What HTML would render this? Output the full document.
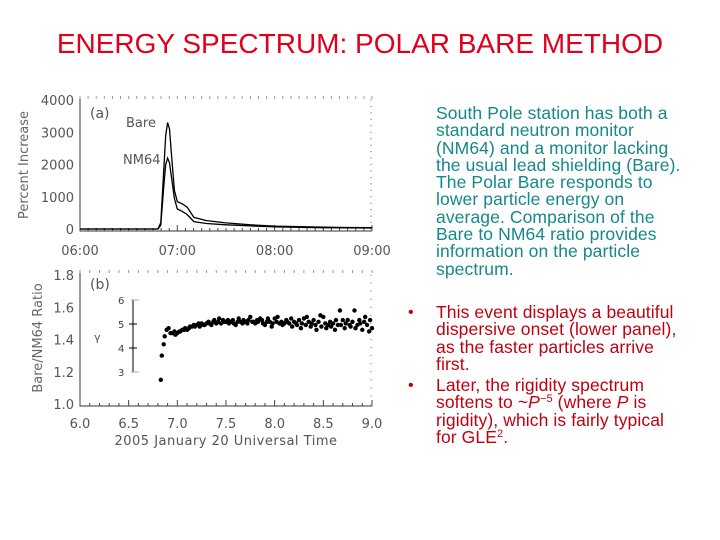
<!DOCTYPE html>
<html><head><meta charset="utf-8"><style>
body{margin:0;width:720px;height:540px;background:#fff;overflow:hidden;position:relative;font-family:"Liberation Sans",Arial,sans-serif}
#title{position:absolute;left:0;width:720px;top:28px;text-align:center;font-size:28px;color:#e0001b}
.txt{position:absolute;left:436px;font-size:17.5px;line-height:17.3px;letter-spacing:0.1px;white-space:nowrap}
#para{top:105px;color:#15888a}
.bul{position:absolute;left:408px;font-size:16px;color:#c0000f}
#b1{top:304px;color:#c0000f}
#b2{top:377px;color:#c0000f}
sup{font-size:11px;line-height:0;vertical-align:6px}
svg{position:absolute;left:0;top:0}
</style></head><body>
<div id="title">ENERGY SPECTRUM: POLAR BARE METHOD</div>
<div id="para" class="txt">South Pole station has both a<br>standard neutron monitor<br>(NM64) and a monitor lacking<br>the usual lead shielding (Bare).<br>The Polar Bare responds to<br>lower particle energy on<br>average. Comparison of the<br>Bare to NM64 ratio provides<br>information on the particle<br>spectrum.</div>
<div class="bul" style="top:304px">•</div>
<div id="b1" class="txt">This event displays a beautiful<br>dispersive onset (lower panel),<br>as the faster particles arrive<br>first.</div>
<div class="bul" style="top:377px">•</div>
<div id="b2" class="txt">Later, the rigidity spectrum<br>softens to ~<i>P</i><sup>−5</sup> (where <i>P</i> is<br>rigidity), which is fairly typical<br>for GLE<sup>2</sup>.</div>
<svg id="chart" width="400" height="460" font-family="'DejaVu Sans','Liberation Sans',sans-serif"></svg>
<script>
const topTimes=[6.0,6.3,6.6,6.8,6.83,6.86,6.88,6.9,6.92,6.94,6.97,7.0,7.05,7.1,7.17,7.3,7.5,7.75,8.0,8.25,8.5,8.75,9.0];
const bareVals=[0,0,0,0,200,1800,2900,3300,3100,2300,1200,850,780,680,360,260,190,130,90,70,55,45,40];
const nmVals=[0,0,0,0,120,1300,2000,2200,2050,1600,950,620,550,450,230,170,130,95,65,50,40,35,30];
const ratioTimes=[6.83,6.84,6.86,6.87,6.89,6.91,6.93,6.95,6.97,6.98,7.0,7.02,7.03,7.05,7.07,7.08,7.1,7.12,7.13,7.15,7.17,7.18,7.2,7.22,7.23,7.25,7.27,7.28,7.3,7.32,7.33,7.35,7.37,7.38,7.4,7.42,7.43,7.45,7.47,7.48,7.5,7.52,7.53,7.55,7.57,7.58,7.6,7.62,7.63,7.65,7.67,7.68,7.7,7.72,7.73,7.75,7.77,7.78,7.8,7.82,7.83,7.85,7.87,7.88,7.9,7.92,7.93,7.95,7.97,7.98,8.0,8.02,8.03,8.05,8.07,8.08,8.1,8.12,8.13,8.15,8.17,8.18,8.2,8.22,8.23,8.25,8.27,8.28,8.3,8.32,8.33,8.35,8.37,8.38,8.4,8.42,8.43,8.45,8.47,8.48,8.5,8.52,8.53,8.55,8.57,8.58,8.6,8.62,8.63,8.65,8.67,8.68,8.7,8.72,8.73,8.75,8.77,8.78,8.8,8.82,8.83,8.85,8.87,8.88,8.9,8.92,8.93,8.95,8.97,8.98,9.0];
const ratioVals=[1.15,1.30,1.37,1.42,1.46,1.47,1.44,1.44,1.45,1.43,1.44,1.45,1.45,1.46,1.46,1.47,1.46,1.47,1.48,1.48,1.49,1.48,1.49,1.50,1.48,1.50,1.49,1.49,1.50,1.51,1.50,1.49,1.51,1.52,1.50,1.51,1.53,1.50,1.52,1.51,1.51,1.52,1.50,1.51,1.52,1.50,1.49,1.51,1.53,1.51,1.50,1.52,1.51,1.50,1.52,1.54,1.51,1.51,1.50,1.52,1.51,1.53,1.52,1.50,1.49,1.51,1.53,1.51,1.48,1.50,1.53,1.51,1.54,1.50,1.51,1.49,1.50,1.52,1.51,1.50,1.53,1.48,1.51,1.50,1.49,1.52,1.47,1.50,1.53,1.49,1.54,1.51,1.48,1.50,1.52,1.49,1.46,1.51,1.55,1.48,1.54,1.50,1.47,1.49,1.51,1.48,1.50,1.46,1.52,1.49,1.58,1.49,1.52,1.47,1.50,1.52,1.49,1.48,1.51,1.58,1.47,1.49,1.52,1.50,1.46,1.51,1.54,1.49,1.45,1.52,1.47];
const topYTicks=[0,1000,2000,3000,4000];
const topXLabels=['06:00','07:00','08:00','09:00'];
const botYTicks=[1.0,1.2,1.4,1.6,1.8];
const botXTicks=[6.0,6.5,7.0,7.5,8.0,8.5,9.0];
const gammaTicks=[3,4,5,6];

const svg=document.getElementById('chart');const NS='http://www.w3.org/2000/svg';
function el(t,a,p){const e=document.createElementNS(NS,t);for(const k in a)e.setAttribute(k,a[k]);(p||svg).appendChild(e);return e;}
const X0=80,X1=372;
const xs=t=>X0+(t-6)/3*(X1-X0);
const yTop=v=>229-v/4000*129;
const yBot=v=>404-(v-1)/0.8*129;
const gy=g=>372-(g-3)*24;

let e=el('path',{d:`M${X0} 98V231H${X1}`,stroke:'#333',fill:'none','stroke-width':1});

for(let i=0;i<=36;i++){const x=xs(6+i/12);el('line',{x1:x,x2:x,y1:231,y2:i%12==0?225:228,stroke:'#444'});el('line',{x1:x,x2:x,y1:96,y2:99,stroke:'#999'});}
for(let i=0;i<=20;i++){const y=yTop(i*200);el('line',{x1:X1-2,x2:X1,y1:y,y2:y,stroke:'#aaa'});}
topYTicks.forEach(v=>{const t=el('text',{x:74,y:yTop(v)+5,'text-anchor':'end','font-size':13,fill:'#555'});t.textContent=v;
});
topXLabels.forEach((s,i)=>{const t=el('text',{x:xs(6+i),y:255,'text-anchor':'middle','font-size':13,fill:'#555'});t.textContent=s;
});
e=el('text',{x:0,y:0,transform:'translate(28,165) rotate(-90)','text-anchor':'middle','font-size':13,fill:'#666'});e.textContent='Percent Increase';

e=el('text',{x:90,y:118,'font-size':14,fill:'#555'});e.textContent='(a)';
e=el('text',{x:126,y:127,'font-size':13,fill:'#555'});e.textContent='Bare';
e=el('text',{x:123,y:164,'font-size':13,fill:'#555'});e.textContent='NM64';
function line(vals,name){const d=topTimes.map((t,i)=>(i?'L':'M')+xs(t).toFixed(1)+' '+yTop(vals[i]).toFixed(1)).join('');
const p=el('path',{d,fill:'none',stroke:'#000','stroke-width':1.3});}
line(bareVals,'bare-line');line(nmVals,'nm64-line');

e=el('path',{d:`M${X0} 272V406H${X1}`,stroke:'#333',fill:'none'});
for(let i=0;i<=30;i++){const x=xs(6+i/10);el('line',{x1:x,x2:x,y1:406,y2:i%5==0?400:403,stroke:'#444'});el('line',{x1:x,x2:x,y1:270,y2:273,stroke:'#999'});}
for(let i=0;i<=16;i++){const y=yBot(1+i*0.05);el('line',{x1:X1-2,x2:X1,y1:y,y2:y,stroke:'#aaa'});}
botYTicks.forEach(v=>{const t=el('text',{x:74,y:yBot(v)+5,'text-anchor':'end','font-size':13,fill:'#555'});t.textContent=v.toFixed(1);
});
botXTicks.forEach(v=>{const t=el('text',{x:xs(v),y:428,'text-anchor':'middle','font-size':13,fill:'#555'});t.textContent=v.toFixed(1);
});
e=el('text',{x:0,y:0,transform:'translate(42,338) rotate(-90)','text-anchor':'middle','font-size':13,fill:'#666'});e.textContent='Bare/NM64 Ratio';

e=el('text',{x:226,y:445,'text-anchor':'middle','font-size':13,fill:'#555','letter-spacing':'0.5'});e.textContent='2005 January 20 Universal Time';

e=el('text',{x:90,y:289,'font-size':14,fill:'#555'});e.textContent='(b)';
e=el('line',{x1:133,x2:133,y1:gy(3),y2:gy(6),stroke:'#000'});
gammaTicks.forEach(g=>{el('line',{x1:g==5||g==4?129:131,x2:g==5||g==4?137:139,y1:gy(g),y2:gy(g),stroke:g==5||g==4?'#000':'#aaa'});
const t=el('text',{x:118,y:gy(g)+4,'font-size':10,fill:'#444'});t.textContent=g;});
e=el('text',{x:94,y:341,'font-size':11,fill:'#555'});e.textContent='γ';
ratioTimes.forEach((t,i)=>{const c=el('circle',{cx:xs(t).toFixed(1),cy:yBot(ratioVals[i]).toFixed(1),r:2.2,fill:'#000'});
});
</script>
</body></html>
